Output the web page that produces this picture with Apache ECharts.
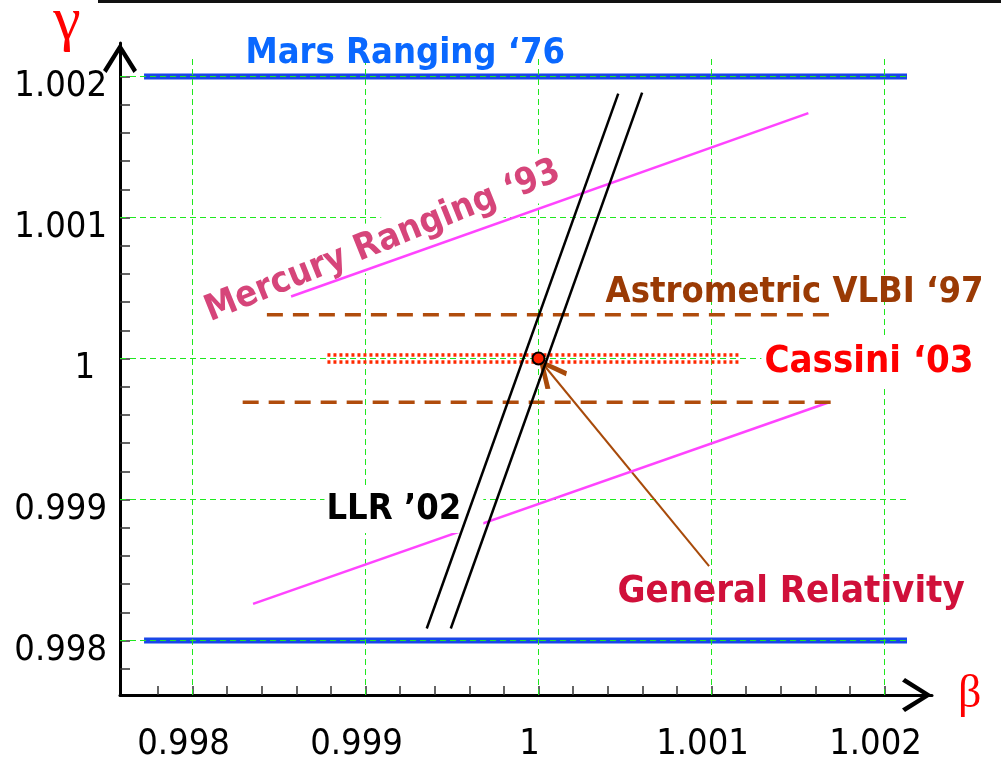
<!DOCTYPE html>
<html>
<head>
<meta charset="utf-8">
<title>PPN gamma vs beta constraints</title>
<script src="https://cdn.jsdelivr.net/npm/echarts@6/dist/echarts.min.js"></script>
<style>
  html, body { margin: 0; padding: 0; background: #fff; }
  #chart { width: 1001px; height: 764px; }
</style>
</head>
<body>
<div id="chart"></div>
<script>
// ticks for beta (x) and gamma (y)
const betaMajor = [0.998, 0.999, 1, 1.001, 1.002];
const betaLabels = ['0.998', '0.999', '1', '1.001', '1.002'];
const betaMinor = [0.9978, 0.998, 0.9982, 0.9984, 0.9986, 0.9988, 0.999, 0.9992, 0.9994, 0.9996, 0.9998,
  1, 1.0002, 1.0004, 1.0006, 1.0008, 1.001, 1.0012, 1.0014, 1.0016, 1.0018, 1.002];
const gammaMajor = [0.998, 0.999, 1, 1.001, 1.002];
const gammaLabels = ['0.998', '0.999', '1', '1.001', '1.002'];
const gammaMinor = [0.9978, 0.998, 0.9982, 0.9984, 0.9986, 0.9988, 0.999, 0.9992, 0.9994, 0.9996, 0.9998,
  1, 1.0002, 1.0004, 1.0006, 1.0008, 1.001, 1.0012, 1.0014, 1.0016, 1.0018, 1.002];

// constraint segments as [beta, gamma] end points
const marsUpper = [[0.99772, 1.002], [1.00213, 1.002]];
const marsLower = [[0.99772, 0.998], [1.00213, 0.998]];
const mercuryUpper = [[0.99857, 1.00044], [1.00156, 1.00174]];
const mercuryLower = [[0.99835, 0.99826], [1.00168, 0.99969]];
const vlbiUpper = [[0.99843, 1.00031], [1.00171, 1.00031]];
const vlbiLower = [[0.99829, 0.99969], [1.00171, 0.99969]];
const cassiniUpper = [[0.99878, 1.000025], [1.00117, 1.000025]];
const cassiniLower = [[0.99878, 0.999975], [1.00117, 0.999975]];
const llrLeft = [[0.999354, 0.998085], [1.000461, 1.001879]];
const llrRight = [[0.999493, 0.998085], [1.000599, 1.001886]];
const generalRelativity = [1, 1];
const grArrowFrom = [1.000986, 0.998527];

// annotations and where they sit (beta, gamma)
const noteTexts = ['Mars Ranging \u201876', 'Mercury Ranging \u201893', 'Astrometric VLBI \u201897',
  'Cassini \u201803', 'LLR \u201902', 'General Relativity'];
const noteBeta = [0.99923, 0.99910, 1.00148, 1.00191, 0.999222, 1.00146];
const noteGamma = [1.00216, 1.00083, 1.00047, 0.999975, 0.998929, 0.99834];

const FONT = '"DejaVu Sans Condensed", "DejaVu Sans", sans-serif';
const GRID_END = 1.00214;
// extents chosen so the major grid lines land on pixel centres
const BETA_MIN = 0.99758093, BETA_MAX = 1.00227457;
const GAMMA_MIN = 0.99761348, GAMMA_MAX = 1.00223759;

// chevron arrow heads, tip at the centre of the path box
const axisArrow = 'path://M17,0 L34,27 L30.5,30 L17,8 L3.5,30 L0,27 Z M17,-30 L17.05,-30 L17,-29.95 Z';
const grArrow = 'path://M14,0 L28,28 L24,31 L14,10 L4,31 L0,28 Z M-17,-31 L-16.95,-31 L-17,-30.95 Z M45,31 L45.05,31 L45,30.95 Z';

const noteStyles = [
  { color: '#0a68ff', fontSize: 36 },
  { color: '#d6457a', fontSize: 36, rotate: 22, backgroundColor: '#fff', padding: [5, 4, 5, 4] },
  { color: '#9a3a04', fontSize: 36 },
  { color: '#ff0000', fontSize: 38, backgroundColor: '#fff', padding: [5, 3, 5, 3] },
  { color: '#000', fontSize: 36, backgroundColor: '#fff', padding: [8, 22, 3, 2] },
  { color: '#d0103a', fontSize: 38 }
];
const noteLayer = [3, 3, 3, 3, 5, 3];

function segment(points, color, width, type, z) {
  return {
    type: 'line', data: points, z: z, silent: true, showSymbol: false, symbol: 'none',
    lineStyle: { color: color, width: width, type: type || 'solid', opacity: 1 }
  };
}

function notes(layer) {
  const data = [];
  noteTexts.forEach((t, i) => {
    if (noteLayer[i] !== layer) return;
    data.push({
      value: [noteBeta[i], noteGamma[i]],
      label: Object.assign({ show: true, position: 'inside', formatter: t, opacity: 1,
        fontFamily: FONT, fontWeight: 'bold', textBorderWidth: 0 }, noteStyles[i])
    });
  });
  return {
    type: 'scatter', z: layer, clip: false, silent: true, symbolSize: 1,
    itemStyle: { color: 'rgba(0,0,0,0)', opacity: 1 }, data: data
  };
}

function labelFor(majors, labels, wrapShort) {
  return v => {
    const i = majors.findIndex(m => Math.abs(m - v) < 1e-7);
    if (i < 0) return '';
    // the lone "1" on the gamma axis sits a little left of the others
    return wrapShort && labels[i].length === 1 ? '{short|' + labels[i] + '}' : labels[i];
  };
}

const chart = echarts.init(document.getElementById('chart'));

const gridLines = betaMajor.map(b => ({ coords: [[b, GAMMA_MIN], [b, GRID_END]] }))
  .concat(gammaMajor.map(g => ({ coords: [[BETA_MIN, g], [GRID_END, g]] })));

const option = {
  animation: false,
  backgroundColor: '#fff',
  grid: { left: 120, right: 69, top: 43, bottom: 69, containLabel: false, outerBoundsMode: 'none' },
  xAxis: {
    type: 'value', min: BETA_MIN, max: BETA_MAX,
    name: '\u03b2', nameLocation: 'end', nameGap: 26,
    nameTextStyle: { color: '#ff0000', fontSize: 46, fontFamily: '"Liberation Serif", serif', padding: [24, 0, 0, 0] },
    axisLine: { show: true, onZero: false, lineStyle: { color: '#000', width: 3 },
      symbol: ['none', axisArrow], symbolSize: [34, 60] },
    axisTick: { show: true, inside: true, length: 9, customValues: betaMinor,
      lineStyle: { color: '#333', width: 1.5 } },
    axisLabel: { customValues: betaMajor, formatter: labelFor(betaMajor, betaLabels, false),
      margin: 32, fontSize: 36, fontFamily: FONT, color: '#000', padding: [0, 18, 0, 0] },
    splitLine: { show: false }
  },
  yAxis: {
    type: 'value', min: GAMMA_MIN, max: GAMMA_MAX,
    name: '\u03b3', nameLocation: 'end', nameGap: 20,
    nameTextStyle: { color: '#ff0000', fontSize: 62, fontFamily: '"Liberation Serif", serif',
      align: 'center', verticalAlign: 'middle', padding: [0, 106, 0, 0] },
    axisLine: { show: true, onZero: false, lineStyle: { color: '#000', width: 3 },
      symbol: ['none', axisArrow], symbolSize: [34, 60] },
    axisTick: { show: true, inside: true, length: 10, customValues: gammaMinor,
      lineStyle: { color: '#333', width: 1.5 } },
    axisLabel: { customValues: gammaMajor, formatter: labelFor(gammaMajor, gammaLabels, true),
      margin: 13, fontSize: 36, fontFamily: FONT, color: '#000', padding: [20, 0, 0, 0],
      rich: { short: { fontSize: 36, fontFamily: FONT, color: '#000', padding: [0, 12, 0, 0] } } },
    splitLine: { show: false }
  },
  graphic: [
    { type: 'rect', shape: { x: 98, y: 0, width: 903, height: 3 }, style: { fill: '#111' } }
  ],
  series: [
    segment(marsUpper, '#1a47e8', 6, 'solid', 1),
    segment(marsLower, '#1a47e8', 6, 'solid', 1),
    {
      type: 'lines', coordinateSystem: 'cartesian2d', z: 2, silent: true, data: gridLines,
      lineStyle: { color: '#1fe81f', width: 1, type: [6, 4], opacity: 1 }
    },
    notes(3),
    segment(mercuryUpper, '#ff44ff', 2.5, 'solid', 4),
    segment(mercuryLower, '#ff44ff', 2.5, 'solid', 4),
    segment(vlbiUpper, '#b04c0c', 3.5, [16, 10], 4),
    segment(vlbiLower, '#b04c0c', 3.5, [16, 10], 4),
    segment(cassiniUpper, '#ff2a00', 3.5, [3, 3], 4),
    segment(cassiniLower, '#ff2a00', 3.5, [3, 3], 4),
    {
      type: 'lines', coordinateSystem: 'cartesian2d', z: 4, silent: true,
      data: [{ coords: [grArrowFrom, generalRelativity] }],
      symbol: ['none', grArrow], symbolSize: 62,
      lineStyle: { color: '#a84a0a', width: 2, opacity: 1 }
    },
    notes(5),
    segment(llrLeft, '#000', 2.5, 'solid', 6),
    segment(llrRight, '#000', 2.5, 'solid', 6),
    {
      type: 'scatter', z: 7, silent: true, data: [generalRelativity], symbolSize: 12,
      itemStyle: { color: '#ff2200', borderColor: '#000', borderWidth: 2, opacity: 1 }
    }
  ]
};

chart.setOption(option);
window.addEventListener('resize', () => chart.resize());
</script>
</body>
</html>
